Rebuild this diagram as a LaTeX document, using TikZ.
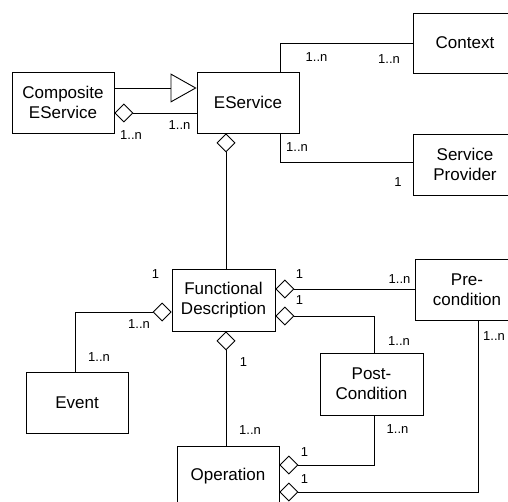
\documentclass[tikz,border=0pt]{standalone}
\usepackage{fontspec}
\setmainfont{Liberation Sans}
\usetikzlibrary{arrows.meta}
\newcommand{\boxfont}{\fontsize{17}{20.4}\selectfont}
\newcommand{\labfont}{\fontsize{13}{15}\selectfont}
\newcommand{\umlclass}[3]{
	\node[draw, rectangle, line width = 0.9pt, minimum width = #2, minimum height = #3, align = center, font = \boxfont, fill = white] (#1)
}
\tikzset{
	agg/.style = {line width = 0.9pt, {Diamond[open, length = 19pt, width = 19pt]}-},
	gen/.style = {line width = 0.9pt, -{Triangle[open, length = 26pt, width = 29pt]}},
	conn/.style = {line width = 0.9pt},
	mult/.style = {inner sep = 0pt, font = \labfont}
}

\begin{document}
\begin{tikzpicture}[x = 1pt, y = -1pt]
		\useasboundingbox (0,0) rectangle (508,502);

		\umlclass{comp}{102pt}{61pt} at (63,102.5) {Composite\\EService};
		\umlclass{eserv}{102pt}{61pt} at (248,102.5) {EService};
		\umlclass{ctx}{104pt}{60pt} at (465,43) {Context};
		\umlclass{prov}{104pt}{61pt} at (465,164.5) {Service\\Provider};
		\umlclass{fd}{103pt}{62pt} at (223.5,300) {Functional\\Description};
		\umlclass{event}{102pt}{61pt} at (77,402.5) {Event};
		\umlclass{oper}{102pt}{61pt} at (228,476.5) {Operation};
		\umlclass{pre}{104pt}{61pt} at (467,290) {Pre-\\condition};
		\umlclass{post}{103pt}{62pt} at (371.5,384) {Post-\\Condition};

		\draw[gen] (comp.east |- 0,88) -- (eserv.west |- 0,88);
		\draw[agg] (comp.east |- 0,113) -- (eserv.west |- 0,113);
		\draw[agg] (eserv.south -| 226,0) -- (fd.north -| 226,0);
		\draw[conn] (eserv.north -| 280,0) |- (ctx.west);
		\draw[conn] (eserv.south -| 280,0) |- ([yshift=2.5pt]prov.west);

		\draw[agg] ([yshift=-12pt]fd.west) -| ([xshift=-2pt]event.north);
		\draw[agg] (fd.south -| 226,0) -- (oper.north -| 226,0);
		\draw[agg] ([yshift=11pt]fd.east) -- ([yshift=11pt]fd.east -| pre.west);
		\draw[agg] ([yshift=-16pt]fd.east) -| ([xshift=2.5pt]post.north);
		\draw[agg] ([yshift=11.5pt]oper.east) -| ([xshift=2.5pt]post.south);
		\draw[agg] ([yshift=-15.5pt]oper.east) -| ([xshift=11pt]pre.south);

		\node[mult] (m1) at (131,135) {1..n};
		\node[mult] (m2) at (179.5,125.5) {1..n};
		\node[mult] (m3) at (316.5,57.5) {1..n};
		\node[mult] (m4) at (389,59.5) {1..n};
		\node[mult] (m5) at (297,147.5) {1..n};
		\node[mult] (m6) at (398,182.5) {1};
		\node[mult] (m7) at (155.5,274.5) {1};
		\node[mult] (m8) at (139,324.5) {1..n};
		\node[mult] (m9) at (99,357.5) {1..n};
		\node[mult] (m10) at (243.5,362.5) {1};
		\node[mult] (m11) at (250,430.5) {1..n};
		\node[mult] (m12) at (299.5,274.5) {1};
		\node[mult] (m13) at (399.5,279.5) {1..n};
		\node[mult] (m14) at (299.5,300.5) {1};
		\node[mult] (m15) at (399,341.5) {1..n};
		\node[mult] (m16) at (397.5,429.5) {1..n};
		\node[mult] (m17) at (304.5,452.5) {1};
		\node[mult] (m18) at (304.5,479.5) {1};
		\node[mult] (m19) at (494,336.5) {1..n};

	\end{tikzpicture}
\end{document}
